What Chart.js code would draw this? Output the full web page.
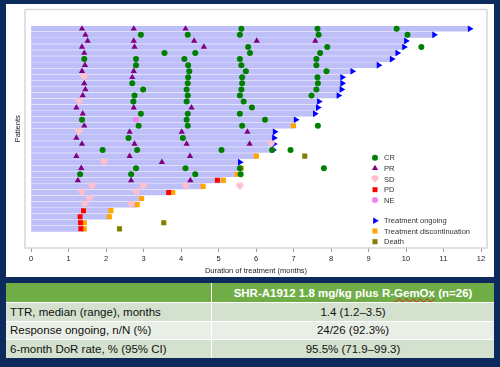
<!DOCTYPE html>
<html>
<head>
<meta charset="utf-8">
<script src="https://cdn.jsdelivr.net/npm/chart.js@4.4.0/dist/chart.umd.min.js"></script>
<style>
  html, body { margin: 0; padding: 0; }
  body { width: 500px; height: 367px; background: #0c2a5c; position: relative; overflow: hidden;
         font-family: "Liberation Sans", Arial, sans-serif; }
  #panel { position: absolute; left: 6px; top: 4px; width: 488px; height: 273px; background: #fff; }
  #tbl { position: absolute; left: 6px; top: 283px; width: 488px; border-collapse: collapse;
         border-style: hidden; font-size: 11.5px; color: #111; }
  #tbl td, #tbl th { border: 1.5px solid #fff; padding: 0 4px; white-space: nowrap; }
  #tbl th { background: #70ad47; color: #fff; font-weight: bold; height: 19px; }
  #tbl td { height: 17.5px; }
  #tbl td:nth-child(2) { text-align: center; }
  #tbl tr.b1 td { background: #d4e1ce; }
  #tbl tr.b2 td { background: #e9efe7; }
  .sq { text-decoration: underline wavy #e02020; text-decoration-thickness: 1px; }
</style>
</head>
<body>
<div id="panel"><canvas id="chart1" width="488" height="273"></canvas></div>

<table id="tbl">
  <tr><th style="width:197px"></th><th>SHR-A1912 1.8 mg/kg plus R-<span class="sq">GemOx</span> (n=26)</th></tr>
  <tr class="b1"><td>TTR, median (range), months</td><td>1.4 (1.2–3.5)</td></tr>
  <tr class="b2"><td>Response ongoing, n/N (%)</td><td>24/26 (92.3%)</td></tr>
  <tr class="b1"><td>6-month DoR rate, % (95% CI)</td><td>95.5% (71.9–99.3)</td></tr>
</table>

<script>
// Duration of treatment per patient (months), top to bottom
const duration = [11.7, 10.75, 10.0, 9.95, 9.77, 9.62, 9.27, 8.57, 8.3, 8.3,
  8.28, 8.2, 7.68, 7.65, 7.57, 7.06, 6.98, 6.5, 6.48, 6.48,
  6.46, 5.98, 5.57, 5.59, 5.48, 5.11, 4.57, 3.76, 2.93, 2.81,
  2.11, 2.07, 1.4, 1.4];
const monthTicks = [0, 1, 2, 3, 4, 5, 6, 7, 8, 9, 10, 11, 12];

// [patient, month]
const crPts = [[1,5.61],[1,7.64],[1,9.75],
  [2,2.93],[2,4.18],[2,5.57],[2,7.67],[2,10.04],
  [4,5.79],[4,7.9],[4,10.41],
  [5,3.56],[5,4.38],[5,5.84],[5,7.71],
  [6,1.42],[6,2.8],[6,4.09],[6,5.57],[6,7.61],
  [7,2.8],[7,4.19],[7,5.61],[7,7.61],
  [8,4.22],[8,5.73],[8,7.88],
  [9,4.19],[9,5.63],[9,7.64],
  [10,2.7],[10,4.18],[10,5.63],[10,7.65],
  [11,2.99],[11,4.15],[11,5.61],[11,7.61],
  [12,2.76],[12,4.18],[12,5.57],[12,7.48],
  [13,2.73],[13,4.15],[13,5.67],
  [14,5.89],
  [15,2.93],[15,4.18],[15,5.57],
  [16,1.36],[16,4.15],[16,6.24],
  [17,2.87],[17,4.18],[17,5.63],[17,7.65],
  [19,2.6],[19,4.05],
  [21,1.91],[21,2.83],[21,5.08],[21,6.43],[21,6.92],
  [24,2.8],[24,4.12],[24,5.57],[24,7.81],
  [25,1.31],[25,2.67],[25,4.38],[25,5.59]];
const prPts = [[1,1.36],[1,2.74],[1,4.12],
  [2,1.45],
  [3,1.51],[3,2.74],[3,4.35],[3,6.02],[3,7.58],
  [4,1.36],[4,2.76],[4,4.61],
  [5,1.42],[7,1.44],[8,1.36],[8,2.74],[9,2.7],[10,1.42],[11,1.45],[12,1.38],
  [14,1.21],[14,2.74],[14,4.28],
  [15,1.38],[17,1.42],
  [18,2.63],[18,4.02],[18,5.77],
  [19,1.21],
  [20,1.36],[20,2.76],[20,4.15],[20,5.83],
  [22,1.21],[22,2.63],[22,4.24],
  [23,3.49],[24,1.34],
  [26,1.25],[26,2.67],[26,4.25]];
const sdPts = [[9,1.42],[13,1.29],[18,1.28],[20,6.41],[23,1.95],
  [27,1.62],[27,3.0],[27,4.12],[27,5.57],
  [28,1.36],[28,2.81],[29,1.56],[30,1.43],[30,2.67]];
const pdPts = [[26,4.97],[28,3.67],[31,1.4],[32,1.31],[33,1.32],[34,1.33]];
const nePts = [[16,2.8]];
const ongoingPts = [[1,11.7],[2,10.75],[3,10.0],[4,9.95],[5,9.77],[6,9.62],[7,9.27],[8,8.57],
  [9,8.3],[10,8.3],[11,8.28],[12,8.2],[13,7.68],[14,7.65],[15,7.57],[16,7.06],
  [18,6.5],[19,6.48],[20,6.48],[21,6.46],[23,5.57]];
const discPts = [[17,7.0],[22,6.01],[24,5.61],[25,5.5],[26,5.13],[27,4.59],[28,3.78],
  [29,2.95],[30,2.83],[31,2.13],[32,2.09],[33,1.42],[34,1.42]];
const deathPts = [[22,7.3],[33,3.54],[34,2.36]];

// pink "shield" marker for SD
function sdShape() {
  const c = document.createElement("canvas");
  c.width = 8; c.height = 8;
  const g = c.getContext("2d");
  g.fillStyle = "#ffc0cb";
  g.beginPath();
  g.moveTo(0.5, 2);
  g.quadraticCurveTo(0.5, 0.5, 2, 0.5);
  g.lineTo(6, 0.5);
  g.quadraticCurveTo(7.5, 0.5, 7.5, 2);
  g.lineTo(7.5, 4);
  g.lineTo(4, 7.5);
  g.lineTo(0.5, 4);
  g.closePath();
  g.fill();
  return c;
}

const markers = [
  { label: "CR", pts: crPts, color: "#008000", style: "circle", radius: 3, rotation: 0 },
  { label: "PR", pts: prPts, color: "#800080", style: "triangle", radius: 3.6, rotation: 0 },
  { label: "SD", pts: sdPts, color: "#ffc0cb", style: sdShape(), radius: 4, rotation: 0 },
  { label: "PD", pts: pdPts, color: "#ff0000", style: "rect", radius: 3.5, rotation: 0 },
  { label: "NE", pts: nePts, color: "#ee82ee", style: "circle", radius: 3, rotation: 0 },
  { label: "", pts: [], color: "#fff", style: "circle", radius: 0, rotation: 0 },
  { label: "Treatment ongoing", pts: ongoingPts, color: "#0000ff", style: "triangle", radius: 3.8, rotation: 90 },
  { label: "Treatment discontinuation", pts: discPts, color: "#ffa500", style: "rect", radius: 3.6, rotation: 0 },
  { label: "Death", pts: deathPts, color: "#808000", style: "rect", radius: 3.6, rotation: 0 },
];

const datasets = [{
  type: "bar",
  label: "Duration",
  data: duration.map((d, i) => ({ x: d, y: i + 1 })),
  backgroundColor: "rgb(190,190,248)",
  barThickness: 5,
  order: 10,
}];
markers.forEach((m) => {
  if (!m.pts.length) return;
  datasets.push({
    type: "scatter",
    label: m.label,
    data: m.pts.map((p) => ({ x: p[1], y: p[0] })),
    backgroundColor: m.color,
    borderWidth: 0,
    pointStyle: m.style,
    pointRadius: m.radius,
    rotation: m.rotation,
    order: 1,
  });
});

// frame around the plot + legend inside the plot
const framePlugin = {
  id: "frame",
  beforeDatasetsDraw(chart) {
    const a = chart.chartArea, ctx = chart.ctx;
    ctx.save();
    ctx.strokeStyle = "#d6d6d6";
    ctx.lineWidth = 1.5;
    ctx.strokeRect(a.left, a.top, a.right - a.left, a.bottom - a.top);
    ctx.restore();
  },
  afterDraw(chart) {
    const ctx = chart.ctx;
    const ys = [153.7, 164.3, 175, 185.7, 196, 206, 216.7, 227, 237.7];
    ctx.save();
    ctx.font = "7.5px 'Liberation Sans', Arial, sans-serif";
    ctx.textBaseline = "middle";
    markers.forEach((m, i) => {
      if (!m.label) return;
      ctx.fillStyle = m.color;
      Chart.helpers.drawPoint(ctx, { pointStyle: m.style, rotation: m.rotation, radius: m.radius, borderWidth: 0 }, 369, ys[i]);
      ctx.fillStyle = "#333";
      ctx.fillText(m.label, 378, ys[i] + 0.5);
    });
    ctx.restore();
  },
};

const config1 = {
  type: "bar",
  data: { datasets: datasets },
  options: {
    indexAxis: "y",
    responsive: false,
    animation: false,
    events: [],
    layout: { padding: { top: 5.5, right: 7, bottom: 0, left: 0 } },
    plugins: { legend: { display: false }, tooltip: { enabled: false } },
    scales: {
      x: {
        type: "linear",
        position: "bottom",
        min: -0.16,
        max: 12.16,
        afterBuildTicks: (s) => { s.ticks = monthTicks.map((v) => ({ value: v })); },
        afterFit: (s) => { s.height = 29; },
        grid: { drawOnChartArea: false, tickLength: 4, color: "#999" },
        border: { display: false },
        ticks: { font: { size: 7.5, family: "'Liberation Sans', Arial" }, color: "#222", padding: 2, maxRotation: 0 },
        title: { display: true, text: "Duration of treatment (months)", font: { size: 7.5, family: "'Liberation Sans', Arial" }, color: "#222", padding: { top: 0, bottom: 2 } },
      },
      y: {
        type: "linear",
        position: "left",
        reverse: true,
        min: 0.28,
        max: 34.7,
        afterFit: (s) => { s.width = 19; },
        grid: { display: false },
        border: { display: false },
        ticks: { display: false },
        title: { display: true, text: "Patients", font: { size: 7.5, family: "'Liberation Sans', Arial" }, color: "#222", padding: { top: 7.5, bottom: 0 } },
      },
    },
  },
  plugins: [framePlugin],
};

const swimChart = new Chart(document.getElementById("chart1"), config1);
</script>
</body>
</html>
